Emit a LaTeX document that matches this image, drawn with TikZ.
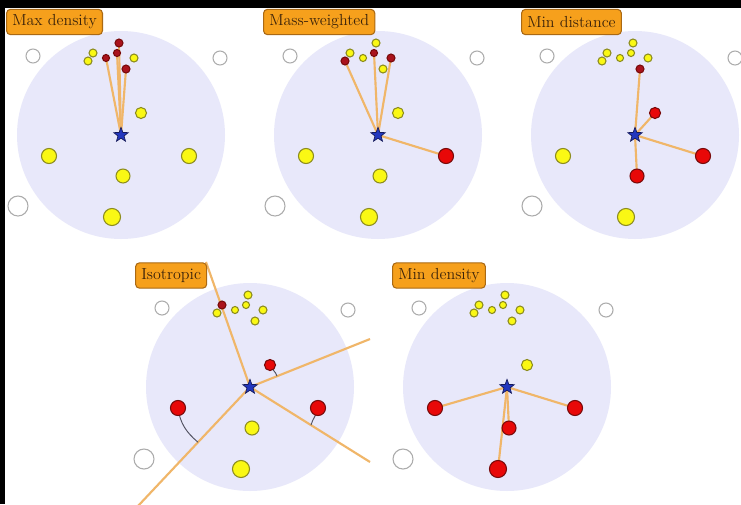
\documentclass[tikz,border=0pt]{standalone}
\usetikzlibrary{shapes.geometric,calc}
\pgfdeclarelayer{back}
\pgfdeclarelayer{rays}
\pgfsetlayers{back,rays,main}

\definecolor{fieldfill}{RGB}{232,232,250}
\definecolor{dotyellow}{RGB}{250,248,20}
\definecolor{dotyellowedge}{RGB}{140,140,30}
\definecolor{dotred}{RGB}{232,8,8}
\definecolor{dotrededge}{RGB}{120,10,10}
\definecolor{dotmaroon}{RGB}{170,18,28}
\definecolor{rayorange}{RGB}{240,182,105}
\definecolor{tagorange}{RGB}{246,160,28}
\definecolor{tagedge}{RGB}{170,105,20}
\definecolor{tagtext}{RGB}{60,35,10}
\definecolor{starblue}{RGB}{35,55,190}
\definecolor{staredge}{RGB}{20,25,90}
\definecolor{hookgray}{RGB}{80,80,95}

% mass points of one panel, placed around its centre
\newcommand\placepoints{%
  \foreach \n/\px/\py/\d in {A/-33/-74/6, B/-28/-82/6, C/-15/-77/5.3,
      D/-4/-82/5.3, E/-2/-92/6, F/5/-66/6, G/13/-77/6, H/20/-22/8.3,
      I/-72/21/11.3, J/68/21/11.3, K/2/41/10.5, L/-9/82/12.8}
    {\node[pt\n, minimum size=\d pt] (\n) at (\px,\py) {};}%
}
% the light disc, the three empty markers and the centre star
\newcommand\placefield[3]{%
  \begin{pgfonlayer}{back}
    \fill[fieldfill] (0,0) circle[radius=104];
  \end{pgfonlayer}
  \node[hollow, minimum size=10.5pt] (O1) at (-88,-79) {};
  \node[hollow, minimum size=10.5pt] (O2) at (#1,-77) {};
  \node[hollow, minimum size=15pt] (O3) at (#2,#3) {};
}

\begin{document}
\begin{tikzpicture}[x=0.75pt,y=-0.75pt,
  ydot/.style={circle, inner sep=0pt, fill=dotyellow, draw=dotyellowedge, line width=0.8pt},
  rdot/.style={circle, inner sep=0pt, fill=dotred, draw=dotrededge, line width=0.8pt},
  mdot/.style={circle, inner sep=0pt, fill=dotmaroon, draw=dotrededge, line width=0.8pt},
  ptA/.style={ydot}, ptB/.style={ydot}, ptC/.style={ydot}, ptD/.style={ydot},
  ptE/.style={ydot}, ptF/.style={ydot}, ptG/.style={ydot}, ptH/.style={ydot},
  ptI/.style={ydot}, ptJ/.style={ydot}, ptK/.style={ydot}, ptL/.style={ydot},
  hollow/.style={circle, inner sep=0pt, fill=white, draw=gray!65, line width=0.8pt},
  centre/.style={star, star points=5, star point ratio=2.4, minimum size=11.5pt,
    inner sep=0pt, fill=starblue, draw=staredge, line width=0.5pt},
  ray/.style={draw=rayorange, line width=1.6pt},
  hook/.style={draw=hookgray, line width=0.7pt},
  tag/.style={anchor=west, fill=tagorange, draw=tagedge, line width=0.8pt,
    rounded corners=3pt, inner xsep=4.3pt, minimum height=19pt,
    text=tagtext, font=\fontsize{12}{14}\selectfont}]

\useasboundingbox (0,0) rectangle (741,504);
\begin{pgfonlayer}{back}
  \fill[white] (0,0) rectangle (741,504);
  \fill[black] (0,0) rectangle (741,8);
  \fill[black] (0,0) rectangle (5,504);
\end{pgfonlayer}

% Max density
\begin{scope}[shift={(121,135)}, name prefix=p1-,
    ptC/.style={mdot}, ptD/.style={mdot}, ptE/.style={mdot}, ptF/.style={mdot}]
  \placefield{99}{-103}{71}
  \placepoints
  \node[centre] (S) at (0,0) {};
  \begin{pgfonlayer}{rays}
    \foreach \t in {C,D,E,F} \draw[ray] (S.center) -- (\t.center);
  \end{pgfonlayer}
\end{scope}

% Mass-weighted
\begin{scope}[shift={(378,135)}, name prefix=p2-,
    ptA/.style={mdot}, ptD/.style={mdot}, ptG/.style={mdot}, ptJ/.style={rdot}]
  \placefield{99}{-103}{71}
  \placepoints
  \node[centre] (S) at (0,0) {};
  \begin{pgfonlayer}{rays}
    \foreach \t in {A,D,G,J} \draw[ray] (S.center) -- (\t.center);
  \end{pgfonlayer}
\end{scope}

% Min distance
\begin{scope}[shift={(635,135)}, name prefix=p3-,
    ptF/.style={mdot}, ptH/.style={rdot}, ptJ/.style={rdot}, ptK/.style={rdot}]
  \placefield{100}{-103}{71}
  \placepoints
  \node[centre] (S) at (0,0) {};
  \begin{pgfonlayer}{rays}
    \foreach \t in {F,H,J,K} \draw[ray] (S.center) -- (\t.center);
  \end{pgfonlayer}
\end{scope}

% Isotropic
\begin{scope}[shift={(250,387)}, name prefix=p4-,
    ptB/.style={mdot}, ptH/.style={rdot}, ptI/.style={rdot}, ptJ/.style={rdot}]
  \placefield{98}{-106}{72}
  \placepoints
  \node[centre] (S) at (0,0) {};
  \coordinate (r1) at (-44,-125);
  \coordinate (r2) at (120,-48);
  \coordinate (r3) at (120,75);
  \coordinate (r4) at (-112,119);
  \coordinate (h2) at ($(S.center)!0.225!(r2)$);
  \coordinate (h3) at ($(S.center)!0.508!(r3)$);
  \coordinate (h4) at ($(S.center)!0.464!(r4)$);
  \begin{pgfonlayer}{rays}
    \foreach \t in {r1,r2,r3,r4} \draw[ray] (S.center) -- (\t);
    \draw[hook] (H.center) to[out=-70,in=105] (h2);
    \draw[hook] (I.center) to[out=-82,in=140] (h4);
    \draw[hook] (J.center) to[out=-100,in=75] (h3);
  \end{pgfonlayer}
\end{scope}

% Min density
\begin{scope}[shift={(507,387)}, name prefix=p5-,
    ptI/.style={rdot}, ptJ/.style={rdot}, ptK/.style={rdot}, ptL/.style={rdot}]
  \placefield{99}{-104}{72}
  \placepoints
  \node[centre] (S) at (0,0) {};
  \begin{pgfonlayer}{rays}
    \foreach \t in {I,J,K,L} \draw[ray] (S.center) -- (\t.center);
  \end{pgfonlayer}
\end{scope}

% panel titles
\node[tag] (tag1) at (6,22) {Max density};
\node[tag] (tag2) at (263,22) {Mass-weighted};
\node[tag] (tag3) at (521,22) {Min distance};
\node[tag] (tag4) at (135,275.5) {Isotropic};
\node[tag] (tag5) at (392,275.5) {Min density};
\end{tikzpicture}
\end{document}
